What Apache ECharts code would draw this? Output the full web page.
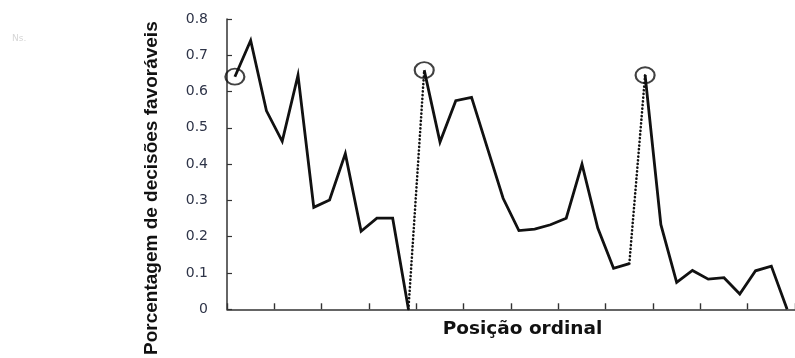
<!DOCTYPE html>
<html>
<head>
<meta charset="utf-8">
<script src="https://cdn.jsdelivr.net/npm/echarts@6/dist/echarts.min.js"></script>
<style>html,body{margin:0;padding:0;background:#fff}#chart{width:795px;height:358px}</style>
</head>
<body>
<div id="chart"></div>
<script>
// Ordinal positions (36 cases)
const positions = Array.from({length: 36}, (_, i) => String(i + 1));
// Three sessions separated by breaks
const segment1 = [0.641, 0.741, 0.547, 0.463, 0.645, 0.281, 0.301, 0.429, 0.215, 0.251, 0.251, 0];
const segment2 = [0.659, 0.461, 0.575, 0.584, 0.445, 0.306, 0.217, 0.221, 0.233, 0.251, 0.400, 0.224, 0.113, 0.126];
const segment3 = [0.645, 0.233, 0.074, 0.107, 0.083, 0.087, 0.042, 0.106, 0.119, 0];
const yTicks = [0, 0.1, 0.2, 0.3, 0.4, 0.5, 0.6, 0.7, 0.8];

const segments = [segment1, segment2, segment3];
const starts = [];
let off = 0;
segments.forEach(s => { starts.push(off); off += s.length; });

const series = [];
segments.forEach((s, k) => {
  series.push({
    type: 'line',
    data: s.map((v, i) => [starts[k] + i, v]),
    symbol: 'none',
    lineStyle: {color: '#111', width: 2.8, join: 'miter'},
    z: 3
  });
});
for (let k = 0; k < segments.length - 1; k++) {
  const a = segments[k], b = segments[k + 1];
  series.push({
    type: 'line',
    data: [[starts[k] + a.length - 1, a[a.length - 1]], [starts[k + 1], b[0]]],
    symbol: 'none',
    lineStyle: {color: '#111', width: 2.6, type: [0.1, 3.6], cap: 'round'},
    z: 2
  });
}
series.push({
  type: 'scatter',
  data: segments.map((s, k) => [starts[k], s[0]]),
  symbol: 'circle',
  symbolSize: [19, 16],
  itemStyle: {color: 'rgba(0,0,0,0)', borderColor: '#111', borderWidth: 2},
  z: 4
});

const chart = echarts.init(document.getElementById('chart'), null, {renderer: 'canvas'});
chart.setOption({
  animation: false,
  backgroundColor: '#fff',
  grid: {left: 227, top: 19, width: 573, height: 293, containLabel: false},
  graphic: [{type: 'text', left: 12, top: 34, style: {text: 'Ns.', fill: '#d6d6d6', font: '9px "DejaVu Sans"'}}],
  xAxis: {
    type: 'category',
    data: positions,
    boundaryGap: true,
    axisLine: {lineStyle: {color: '#333', width: 1.5}},
    axisTick: {show: true, inside: true, interval: 2, length: 6, lineStyle: {color: '#333', width: 1.4}},
    axisLabel: {show: false},
    splitLine: {show: false},
    name: 'Posição ordinal',
    nameLocation: 'middle',
    nameGap: 10,
    nameTextStyle: {fontFamily: 'DejaVu Sans', fontWeight: 'bold', fontSize: 18.5, color: '#111', padding: [0, 0, 0, 23]}
  },
  yAxis: {
    type: 'value',
    min: 0, max: 0.8, interval: 0.1,
    axisLine: {show: true, lineStyle: {color: '#333', width: 1.5}},
    axisTick: {show: true, inside: true, length: 5, lineStyle: {color: '#333', width: 1.2}},
    splitLine: {show: false},
    axisLabel: {
      margin: 19,
      fontFamily: 'DejaVu Sans', fontSize: 14, color: '#2e3448',
      formatter: v => { const t = yTicks.find(x => Math.abs(x - v) < 1e-6); return t === undefined ? '' : String(t); }
    },
    name: 'Porcentagem de decisões favoráveis',
    nameLocation: 'middle',
    nameGap: 66,
    nameTextStyle: {fontFamily: 'Liberation Sans', fontWeight: 'bold', fontSize: 19, color: '#111', padding: [0, 48, 0, 0]}
  },
  series: series
});
</script>
</body>
</html>
